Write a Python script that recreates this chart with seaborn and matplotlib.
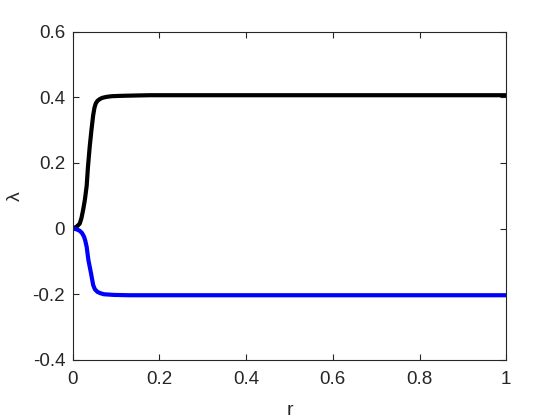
import numpy as np
import pandas as pd
import seaborn as sns
import matplotlib.pyplot as plt

# values
r_black = [0.0, 0.005, 0.010, 0.016, 0.020, 0.024, 0.028, 0.032, 0.035, 0.039,
           0.043, 0.047, 0.050, 0.053, 0.057, 0.062, 0.068, 0.078, 0.09, 0.109,
           0.14, 0.178, 0.3, 0.5, 0.7, 0.9, 1.0]
lam_black = [0.0, 0.003, 0.007, 0.015, 0.032, 0.058, 0.089, 0.130, 0.188, 0.249,
             0.300, 0.345, 0.368, 0.381, 0.389, 0.394, 0.398, 0.401, 0.403, 0.404,
             0.405, 0.406, 0.406, 0.406, 0.406, 0.406, 0.406]

r_blue = [0.0, 0.008, 0.015, 0.021, 0.026, 0.029, 0.032, 0.036, 0.042, 0.047,
          0.051, 0.057, 0.064, 0.072, 0.083, 0.095, 0.13, 0.2, 0.4, 0.6, 0.8, 1.0]
lam_blue = [0.0, -0.002, -0.006, -0.013, -0.025, -0.038, -0.056, -0.096, -0.136, -0.172,
            -0.185, -0.193, -0.197, -0.200, -0.201, -0.202, -0.203, -0.203, -0.203, -0.203,
            -0.203, -0.203]

df = pd.concat([
    pd.DataFrame({'r': r_black, 'lam': lam_black, 'branch': 'upper'}),
    pd.DataFrame({'r': r_blue, 'lam': lam_blue, 'branch': 'lower'}),
])

sns.set_style('white')
plt.rcParams['font.family'] = ['Liberation Sans', 'DejaVu Sans']

fig = plt.figure(figsize=(5.6, 4.2), dpi=100)
ax = fig.add_axes([0.130, 0.143, 0.774, 0.782])

sns.lineplot(data=df, x='r', y='lam', hue='branch', palette={'upper': 'black', 'lower': '#0000ff'},
             linewidth=3, legend=False, sort=False, estimator=None, ax=ax,
             solid_joinstyle='round', solid_capstyle='round')

ax.set_xlim(0, 1)
ax.set_ylim(-0.4, 0.6)
ax.set_xticks([0, 0.2, 0.4, 0.6, 0.8, 1])
ax.set_xticklabels(['0', '0.2', '0.4', '0.6', '0.8', '1'])
ax.set_yticks([-0.4, -0.2, 0, 0.2, 0.4, 0.6])
ax.set_yticklabels(['-0.4', '-0.2', '0', '0.2', '0.4', '0.6'])

ax.tick_params(direction='in', length=4, width=0.8, colors='#262626', labelsize=13.5,
               top=True, right=True, bottom=True, left=True)
ax.tick_params(axis='x', pad=8)
ax.tick_params(axis='y', pad=5.5)
for s in ax.spines.values():
    s.set_color('#262626')
    s.set_linewidth(0.8)

ax.set_xlabel('r', fontsize=14, color='#262626', labelpad=10)
ax.set_ylabel('λ', fontsize=14, color='#262626', labelpad=6)

fig.savefig('out.png', dpi=100)
